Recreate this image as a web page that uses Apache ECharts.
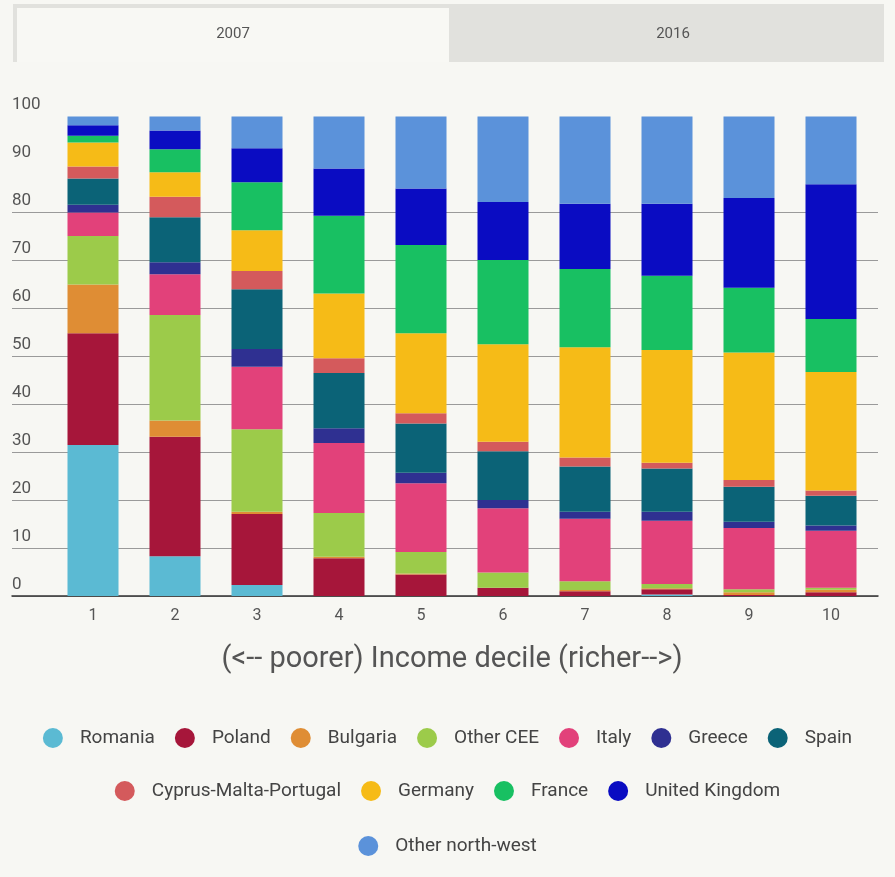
<!DOCTYPE html>
<html>
<head>
<meta charset="utf-8">
<title>Income decile composition - 2007</title>
<script src="https://cdn.jsdelivr.net/npm/echarts@6/dist/echarts.min.js"></script>
<style>
  html, body { margin: 0; padding: 0; background: #f7f7f3; }
  #chart { width: 895px; height: 877px; }
</style>
</head>
<body>
<div id="chart"></div>
<script>
// categories
const deciles = ["1", "2", "3", "4", "5", "6", "7", "8", "9", "10"];
const tabs = ["2007", "2016"];
const axisTitle = "(<-- poorer) Income decile (richer-->)";

// share of each decile (%), stacked bottom -> top
const romania     = [31.5,  8.3,  2.3,  0,    0,    0,    0,    0.3,  0,    0];
const poland      = [23.3, 24.9, 14.8,  7.9,  4.5,  1.7,  1.0,  1.1,  0.2,  0.8];
const bulgaria    = [10.2,  3.4,  0.5,  0.3,  0.2,  0,    0.25, 0.2,  0.6,  0.5];
const otherCEE    = [10.1, 22.0, 17.2,  9.1,  4.5,  3.2,  1.85, 0.9,  0.6,  0.4];
const italy       = [ 4.9,  8.5, 13.0, 14.6, 14.3, 13.4, 13.0, 13.2, 12.8, 11.9];
const greece      = [ 1.6,  2.5,  3.7,  3.1,  2.2,  1.7,  1.5,  1.9,  1.3,  1.1];
const spain       = [ 5.5,  9.4, 12.5, 11.5, 10.3, 10.2,  9.4,  9.0,  7.3,  6.2];
const cyprusMP    = [ 2.5,  4.3,  3.8,  3.1,  2.1,  2.0,  1.9,  1.2,  1.4,  1.1];
const germany     = [ 5.0,  5.1,  8.5, 13.5, 16.7, 20.3, 23.0, 23.5, 26.6, 24.7];
const france      = [ 1.4,  4.8, 10.0, 16.2, 18.4, 17.6, 16.3, 15.5, 13.5, 11.1];
const uk          = [ 2.2,  3.9,  7.1,  9.9, 11.8, 12.1, 13.6, 15.0, 18.7, 28.1];
const otherNW     = [ 1.8,  2.9,  6.6, 10.8, 15.0, 17.8, 18.2, 18.2, 17.0, 14.1];

const names = ["Romania", "Poland", "Bulgaria", "Other CEE", "Italy", "Greece", "Spain",
  "Cyprus-Malta-Portugal", "Germany", "France", "United Kingdom", "Other north-west"];
const values = [romania, poland, bulgaria, otherCEE, italy, greece, spain,
  cyprusMP, germany, france, uk, otherNW];
const colors = ["#5bbad3", "#a6163a", "#df8d34", "#9ccb4a", "#e2417a", "#2f3091", "#0b6377",
  "#d45a5c", "#f6bb17", "#18c062", "#0a0cc2", "#5b92da"];

const font = "Roboto, 'DejaVu Sans', sans-serif";
const textColor = "#555";

const chart = echarts.init(document.getElementById("chart"));

const series = names.map((name, i) => ({
  name: name,
  type: "bar",
  stack: "total",
  xAxisIndex: 1,
  yAxisIndex: 1,
  barWidth: 51,
  itemStyle: { color: colors[i] },
  data: values[i]
}));

// grid lines only up to 80, like the original
const gridColors = ["#9a9a9a", "#9a9a9a", "#9a9a9a", "#9a9a9a", "#9a9a9a",
  "#9a9a9a", "#9a9a9a", "#9a9a9a", "#9a9a9a", "rgba(0,0,0,0)", "rgba(0,0,0,0)"];

function legendRow(items, top) {
  return {
    data: items,
    top: top,
    left: "center",
    icon: "circle",
    itemWidth: 20,
    itemHeight: 20,
    itemGap: 20,
    selectedMode: false,
    textStyle: {
      fontFamily: font,
      fontSize: 19,
      color: "#444",
      padding: [0, 0, 0, 12]
    }
  };
}

const option = {
  backgroundColor: "#f7f7f3",
  animation: false,
  textStyle: { fontFamily: font },
  graphic: [
    { type: "rect", shape: { x: 13, y: 4, width: 871, height: 58 }, style: { fill: "#e1e1dd" } },
    { type: "rect", shape: { x: 17, y: 8, width: 432, height: 54 }, style: { fill: "#f8f8f4" } },
    { type: "text", x: 233, y: 34, style: { text: tabs[0], fontFamily: font, fontSize: 15, fill: "#555", align: "center", verticalAlign: "middle" } },
    { type: "text", x: 673, y: 34, style: { text: tabs[1], fontFamily: font, fontSize: 15, fill: "#555", align: "center", verticalAlign: "middle" } },
    { type: "text", x: 452, y: 660, style: { text: axisTitle, fontFamily: font, fontSize: 29, fill: textColor, align: "center", verticalAlign: "middle" } }
  ],
  legend: [
    legendRow(names.slice(0, 7), 723),
    legendRow(names.slice(7, 11), 776),
    legendRow(names.slice(11), 831)
  ],
  grid: [
    { left: 12, right: 17, top: 116.6, bottom: 281 },
    { left: 52, right: 23, top: 116.6, bottom: 281 }
  ],
  xAxis: [
    {
      gridIndex: 0,
      type: "value",
      min: 0,
      max: 1,
      axisLine: { show: true, onZero: false, lineStyle: { color: "#333", width: 1.5 } },
      axisTick: { show: false },
      axisLabel: { show: false },
      splitLine: { show: false }
    },
    {
      gridIndex: 1,
      type: "category",
      data: deciles,
      axisLine: { show: false },
      axisTick: { show: false },
      axisLabel: { margin: 12, fontSize: 16, color: textColor, fontFamily: font }
    }
  ],
  yAxis: [
    {
      gridIndex: 0,
      type: "value",
      min: 0,
      max: 100,
      interval: 10,
      axisLine: { show: false },
      axisTick: { show: false },
      axisLabel: {
        inside: true,
        margin: 0,
        verticalAlign: "bottom",
        padding: [0, 0, 3, 0],
        fontSize: 17,
        color: textColor,
        fontFamily: font
      },
      splitLine: { show: true, lineStyle: { color: gridColors, width: 1 } }
    },
    {
      gridIndex: 1,
      type: "value",
      min: 0,
      max: 100,
      interval: 10,
      show: false
    }
  ],
  series: series
};

chart.setOption(option);
</script>
</body>
</html>
